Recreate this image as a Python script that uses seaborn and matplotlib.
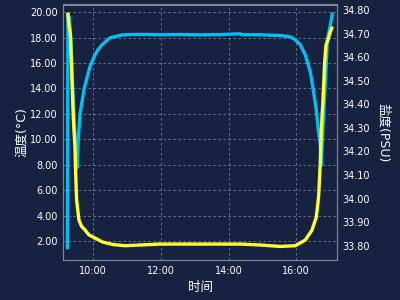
import matplotlib
matplotlib.use("Agg")
import matplotlib.pyplot as plt
import matplotlib.dates as mdates
import seaborn as sns
import pandas as pd

# ---- data ----
temp_times = ["09:14:10", "09:15:04", "09:17:43", "09:20:24", "09:23:03", "09:25:43",
              "09:28:23", "09:31:03", "09:33:22", "09:36:23", "09:43:29", "09:48:49",
              "09:54:08", "10:03:01", "10:08:21", "10:15:27", "10:29:40", "10:50:59",
              "11:22:57", "11:58:28", "12:33:59", "13:09:31", "13:45:03", "14:20:34",
              "14:24:00", "14:56:06", "15:31:37", "15:49:23", "15:58:16", "16:07:08",
              "16:16:01", "16:24:54", "16:30:14", "16:35:33", "16:39:06", "16:42:39",
              "16:44:26", "16:48:00", "16:52:48", "16:55:06", "16:59:33", "17:03:59"]
temp_values = [1.45, 19.85, 19.55, 17.82, 14.67, 11.92,
               9.56, 7.75, 9.95, 11.92, 13.89, 14.83,
               15.70, 16.64, 17.03, 17.43, 17.98, 18.21,
               18.25, 18.22, 18.24, 18.21, 18.23, 18.30,
               18.22, 18.22, 18.16, 18.06, 17.82, 17.43,
               16.64, 15.30, 13.89, 12.31, 10.74, 9.56,
               7.98, 11.52, 15.46, 17.82, 18.76, 19.87]

sal_times = ["09:15:04", "09:16:50", "09:19:30", "09:22:10", "09:24:50", "09:27:30",
             "09:28:55", "09:30:31", "09:34:36", "09:39:03", "09:45:15", "09:52:22",
             "09:59:28", "10:17:14", "10:35:00", "10:56:18", "11:22:57", "11:58:28",
             "13:09:31", "14:20:34", "14:56:06", "15:31:37", "15:58:16", "16:16:01",
             "16:27:55", "16:35:33", "16:39:38", "16:42:39", "16:44:26", "16:47:27",
             "16:50:18", "16:52:48", "16:56:21", "17:00:26", "17:03:27"]
sal_values = [34.783, 34.736, 34.694, 34.503, 34.333, 34.219,
              34.100, 33.994, 33.909, 33.883, 33.867, 33.846,
              33.837, 33.815, 33.805, 33.800, 33.803, 33.807,
              33.807, 33.807, 33.803, 33.797, 33.800, 33.824,
              33.866, 33.921, 34.006, 34.151, 34.291, 34.418,
              34.575, 34.651, 34.673, 34.707, 34.724]

left_ticks = [2, 4, 6, 8, 10, 12, 14, 16, 18, 20]
right_ticks = [33.8, 33.9, 34.0, 34.1, 34.2, 34.3, 34.4, 34.5, 34.6, 34.7, 34.8]
x_label = "时间"
left_label = "温度(°C)"
right_label = "盐度(PSU)"

day = "2024-01-01 "
df_t = pd.DataFrame({"time": pd.to_datetime([day + t for t in temp_times]),
                     "value": temp_values})
df_s = pd.DataFrame({"time": pd.to_datetime([day + t for t in sal_times]),
                     "value": sal_values})

BG = "#172240"
BLUE = "#00bff2"
YELLOW = "#ffff33"
GRID = "#8a93a8"
SPINE = "#7d8494"

sns.set_theme(style="dark")
plt.rcParams["font.family"] = ["DejaVu Sans", "Noto Sans CJK SC"]
cjk = ["DejaVu Sans", "Noto Sans CJK SC"]

fig = plt.figure(figsize=(4, 3), dpi=100, facecolor=BG)
ax = fig.add_axes([0.158, 0.133, 0.6845, 0.852])
ax.set_facecolor(BG)
ax2 = ax.twinx()

sns.lineplot(data=df_t, x="time", y="value", ax=ax, color=BLUE, linewidth=2.4,
             sort=False, estimator=None)
sns.lineplot(data=df_s, x="time", y="value", ax=ax2, color=YELLOW, linewidth=2.4,
             sort=False, estimator=None)

ax.set_xlim(pd.Timestamp(day + "09:06:43"), pd.Timestamp(day + "17:12:18"))
ax.set_ylim(0.5, 20.6)
ax2.set_ylim(33.739, 34.823)

ax.set_yticks(left_ticks)
ax.set_yticklabels([f"{v:.2f}" for v in left_ticks])
ax2.set_yticks(right_ticks)
ax2.set_yticklabels([f"{v:.2f}" for v in right_ticks])

ax.xaxis.set_major_locator(mdates.HourLocator(byhour=[10, 12, 14, 16]))
ax.xaxis.set_major_formatter(mdates.DateFormatter("%H:%M"))

ax.grid(True, color=GRID, linestyle=(0, (3, 3)), linewidth=0.6, alpha=0.8)
ax2.grid(False)

for a in (ax, ax2):
    a.tick_params(colors="white", labelsize=7, length=0, pad=4)
    for s in a.spines.values():
        s.set_visible(True)
        s.set_color(SPINE)
        s.set_linewidth(0.8)

ax.set_xlabel(x_label, color="white", fontsize=9, family=cjk, labelpad=4)
ax.set_ylabel(left_label, color="white", fontsize=9, family=cjk, labelpad=1)
ax2.set_ylabel(right_label, color="white", fontsize=9, family=cjk, rotation=270,
               labelpad=14)

fig.savefig("out.png", dpi=100, facecolor=BG)
